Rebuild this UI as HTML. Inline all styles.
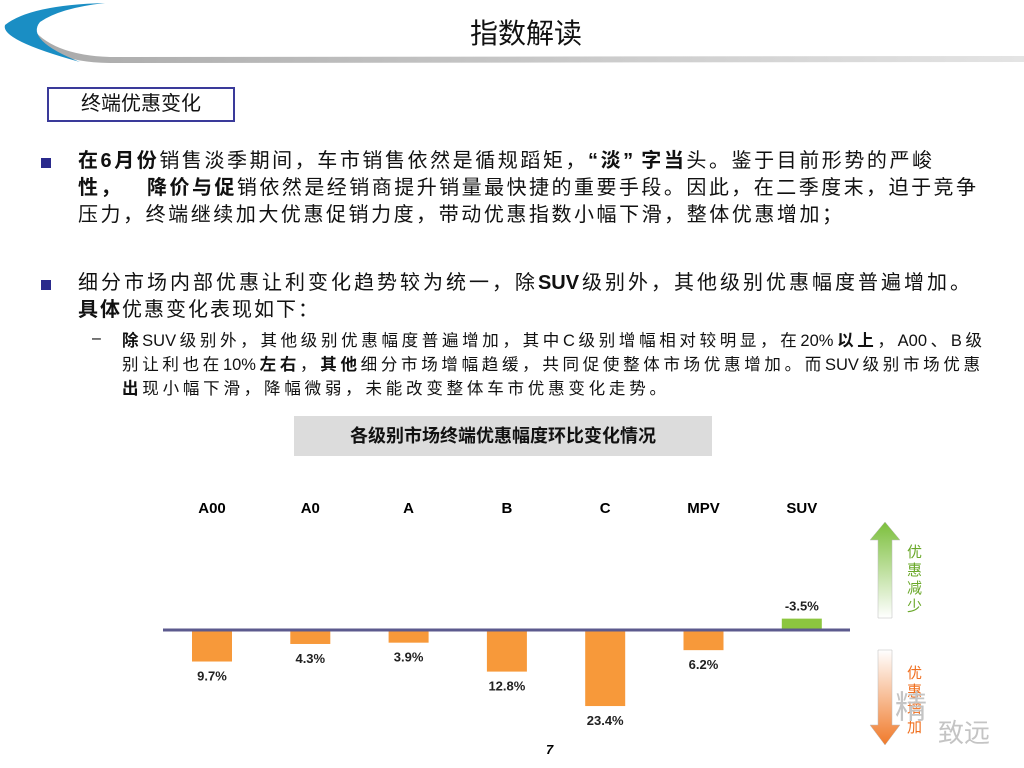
<!DOCTYPE html>
<html><head><meta charset="utf-8">
<style>
body{margin:0;width:1024px;height:768px;overflow:hidden;background:#fff;font-family:"Liberation Sans","Noto Sans CJK SC",sans-serif;position:relative}
.abs{position:absolute}
.ln{position:absolute;white-space:nowrap;text-align:justify;text-align-last:justify;color:#111}
.m{font-size:20px;height:27px;line-height:27px}
.s{font-size:16.5px;height:24px;line-height:24px}
b{font-weight:bold}
.bul{position:absolute;width:10px;height:10px;background:#2a2a8c}
</style></head><body>
<svg class="abs" style="left:0;top:0" width="1024" height="70">
<defs><linearGradient id="gr" x1="0" x2="1"><stop offset="0" stop-color="#aaa"/><stop offset="1" stop-color="#e4e4e4"/></linearGradient></defs>
<path d="M30 25 Q50 55 110 57 L1024 56 L1024 62 L110 63 Q40 62 30 25Z" fill="url(#gr)"/>
<path d="M105 3 Q30 5 5 25 Q0 40 80 62 Q25 40 40 22 Q60 8 105 3Z" fill="#1a8ec4"/>
</svg>
<div class="abs" style="left:470px;top:12px;font-size:28px;color:#111">指数解读</div>
<div class="abs" style="left:47px;top:87px;width:184px;height:31px;border:2px solid #3a3a9a;font-size:20px;line-height:31px;text-align:center;color:#111">终端优惠变化</div>

<div class="bul" style="left:41px;top:158px"></div>
<div class="ln m" style="left:78px;top:148px;width:854px"><b>在6月份</b>销售淡季期间，车市销售依然是循规蹈矩，<b>“淡” 字当</b>头。鉴于目前形势的严峻</div>
<div class="ln m" style="left:78px;top:175px;width:898px"><b>性，&nbsp;&nbsp; 降价与促</b>销依然是经销商提升销量最快捷的重要手段。因此，在二季度末，迫于竞争</div>
<div class="ln m" style="left:78px;top:202px;width:764px">压力，终端继续加大优惠促销力度，带动优惠指数小幅下滑，整体优惠增加；</div>

<div class="bul" style="left:41px;top:280px"></div>
<div class="ln m" style="left:78px;top:270px;width:892px">细分市场内部优惠让利变化趋势较为统一，除<b>SUV</b>级别外，其他级别优惠幅度普遍增加。</div>
<div class="ln m" style="left:78px;top:297px;width:240px"><b>具体</b>优惠变化表现如下：</div>

<div class="abs" style="left:92px;top:330px;font-size:16px">–</div>
<div class="ln s" style="left:122px;top:329px;width:860px"><b>除</b>SUV级别外，其他级别优惠幅度普遍增加，其中C级别增幅相对较明显，在20%<b>以上</b>，A00、B级</div>
<div class="ln s" style="left:122px;top:353px;width:858px">别让利也在10%<b>左右</b>，<b>其他</b>细分市场增幅趋缓，共同促使整体市场优惠增加。而SUV级别市场优惠</div>
<div class="ln s" style="left:122px;top:377px;width:544px"><b>出</b>现小幅下滑，降幅微弱，未能改变整体车市优惠变化走势。</div>

<div class="abs" style="left:294px;top:416px;width:418px;height:40px;background:#dcdcdc;font-size:18px;font-weight:bold;line-height:40px;text-align:center;color:#111">各级别市场终端优惠幅度环比变化情况</div>

<svg id="chart" class="abs" style="left:0;top:480px" width="1024" height="288">
<defs>
<linearGradient id="ga" x1="0" y1="0" x2="0" y2="1"><stop offset="0" stop-color="#7cbf3c"/><stop offset="1" stop-color="#fff"/></linearGradient>
<linearGradient id="gb" x1="0" y1="0" x2="0" y2="1"><stop offset="0" stop-color="#fff"/><stop offset="1" stop-color="#f07a2a"/></linearGradient>
</defs>
<path d="M885 42 L900 60 L892 60 L892 138 L878 138 L878 60 L870 60Z" fill="url(#ga)" stroke="#bbb" stroke-width="0.5"/>
<path d="M878 170 L892 170 L892 245 L900 245 L885 265 L870 245 L878 245Z" fill="url(#gb)" stroke="#bbb" stroke-width="0.5"/>
<text font-size="15" fill="#6aa82a"><tspan x="907" y="77">优</tspan><tspan x="907" dy="18">惠</tspan><tspan x="907" dy="18">减</tspan><tspan x="907" dy="18">少</tspan></text>
<text font-size="15" fill="#f07020"><tspan x="907" y="198">优</tspan><tspan x="907" dy="18">惠</tspan><tspan x="907" dy="18">增</tspan><tspan x="907" dy="18">加</tspan></text>
<text x="895" y="238" font-size="32" fill="#c4c4c4">精</text>
<text x="938" y="262" font-size="26" fill="#c4c4c4">致远</text>
<g id="bars"></g>
<line x1="163" x2="850" y1="150" y2="150" stroke="#5c5a8e" stroke-width="3"/>
</svg>
<div class="abs" style="left:546px;top:742px;font-size:13px;font-style:italic;font-weight:bold">7</div>
<script>
const categories=["A00","A0","A","B","C","MPV","SUV"];
const values=[9.7,4.3,3.9,12.8,23.4,6.2,-3.5];
const valueLabels=["9.7%","4.3%","3.9%","12.8%","23.4%","6.2%","-3.5%"];
const ns="http://www.w3.org/2000/svg";
const x=i=>212+i*98.3;
const base=150, k=3.25;
const y=v=>base+v*k;
const g=document.getElementById('bars');
categories.forEach((c,i)=>{
  const v=values[i];
  const r=document.createElementNS(ns,'rect');
  
  
  r.setAttribute('x',x(i)-20);r.setAttribute('width',40);
  r.setAttribute('y',Math.min(base,y(v)));r.setAttribute('height',Math.abs(y(v)-base));
  r.setAttribute('fill',v<0?'#8cc63f':'#f7993a');
  g.appendChild(r);
  const t=document.createElementNS(ns,'text');
  
  
  t.setAttribute('x',x(i));t.setAttribute('y',33);t.setAttribute('text-anchor','middle');
  t.setAttribute('font-size','15');t.setAttribute('font-weight','bold');t.textContent=c;
  g.appendChild(t);
  const l=document.createElementNS(ns,'text');
  
  
  l.setAttribute('x',x(i));l.setAttribute('y',v<0?y(v)-8:y(v)+19);l.setAttribute('text-anchor','middle');
  l.setAttribute('font-size','13');l.setAttribute('font-weight','bold');l.setAttribute('fill','#222');l.textContent=valueLabels[i];
  g.appendChild(l);
});
</script>
</body></html>
